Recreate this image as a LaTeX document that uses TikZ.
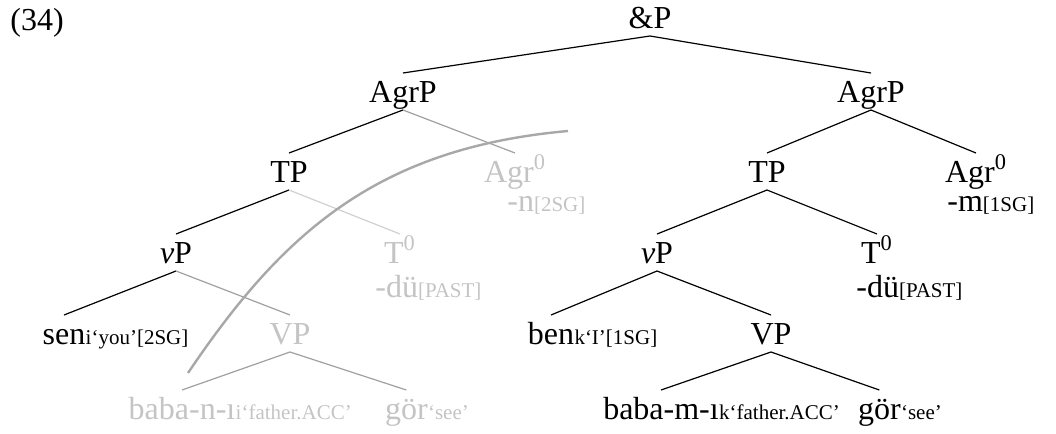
\documentclass[tikz,border=0pt]{standalone}
\usepackage{fontspec}
\setmainfont{Liberation Serif}
\usetikzlibrary{positioning}
\definecolor{fade}{HTML}{C4C4C4}
\definecolor{edgeg}{HTML}{A0A0A0}
\definecolor{edgel}{HTML}{D0D0D0}
\definecolor{arcg}{HTML}{A8A8A8}
\newcommand{\lbfont}{\fontsize{16}{18}\selectfont}
\newcommand{\smfont}{\fontsize{10.5}{12}\selectfont}
\tikzset{
  lab/.style={font=\lbfont, inner sep=0pt, outer sep=0pt, text height=14.5pt, text depth=4pt, anchor=base},
  labg/.style={lab, text=fade},
  sub/.style={font=\smfont, inner sep=0pt, anchor=base west},
  subg/.style={sub, text=fade},
  mor/.style={font=\lbfont, inner sep=0pt, anchor=base west},
  morg/.style={mor, text=fade},
  br/.style={draw=black, line width=0.6pt},
  brg/.style={br, draw=edgeg},
  brl/.style={br, draw=edgel},
  arcl/.style={draw=arcg, line width=1.2pt},
}

\begin{document}
\begin{tikzpicture}[x=0.5pt, y=-0.5pt]
\useasboundingbox (0,0) rectangle (1056,434);
\node[mor] (num) at (10,30) {(34)};
\node[lab] (amp) at (650,28) {\&P};
% left conjunct
\node[lab] (agrpL) at (403,102) {AgrP};
\node[lab] (tpL) at (289,182) {TP};
\node[labg] (agrL) at (515,182) {Agr\textsuperscript{0}};
\node[morg] (mL) at (507,211) {-n{\smfont[2SG]}};
\node[lab] (vpL) at (176,263) {\textit{v}P};
\node[labg] (tL) at (400,263) {T\textsuperscript{0}};
\node[morg] (duL) at (375,297) {-dü{\smfont[PAST]}};
\node[lab] (sen) at (64,344) {sen};
\node[sub] at (sen.base east) {i‘you’[2SG]};
\node[labg] (VL) at (290,344) {VP};
\node[labg] (babaL) at (182,419) {baba-n-ı};
\node[subg] at (babaL.base east) {i‘father.ACC’};
\node[labg, anchor=base west] (gorL) at (385,419) {gör};
\node[subg] at (gorL.base east) {‘see’};
% right conjunct
\node[lab] (agrpR) at (871,102) {AgrP};
\node[lab] (tpR) at (767,182) {TP};
\node[lab] (agrR) at (976,182) {Agr\textsuperscript{0}};
\node[mor] (mR) at (947,211) {-m{\smfont[1SG]}};
\node[lab] (vpR) at (657,263) {\textit{v}P};
\node[lab] (tR) at (877,263) {T\textsuperscript{0}};
\node[mor] (duR) at (856,297) {-dü{\smfont[PAST]}};
\node[lab] (ben) at (551,344) {ben};
\node[sub] at (ben.base east) {k‘I’[1SG]};
\node[lab] (VR) at (771,344) {VP};
\node[lab] (babaR) at (661,419) {baba-m-ı};
\node[sub] at (babaR.base east) {k‘father.ACC’};
\node[lab, anchor=base west] (gorR) at (858,419) {gör};
\node[sub] at (gorR.base east) {‘see’};

\draw[br] (amp.south) -- (agrpL.north);
\draw[br] (amp.south) -- (agrpR.north);
\draw[br] (agrpL.south) -- (tpL.north);
\draw[brg] (agrpL.south) -- (agrL.north);
\draw[br] (tpL.south) -- (vpL.north);
\draw[brl] (tpL.south) -- (tL.north);
\draw[br] (vpL.south) -- (sen.north);
\draw[brg] (vpL.south) -- (VL.north);
\draw[brg] (VL.south) -- (babaL.north);
\draw[brg] (VL.south) -- (gorL.north);
\draw[br] (agrpR.south) -- (tpR.north);
\draw[br] (agrpR.south) -- (agrR.north);
\draw[br] (tpR.south) -- (vpR.north);
\draw[br] (tpR.south) -- (tR.north);
\draw[br] (vpR.south) -- (ben.north);
\draw[br] (vpR.south) -- (VR.north);
\draw[br] (VR.south) -- (babaR.north);
\draw[br] (VR.south) -- (gorR.north);

% movement arc
\coordinate (mvA) at (188,373);
\coordinate (mvB) at (568,131);
\draw[arcl] (mvA) .. controls (283,232) and (378,148) .. (mvB);
\end{tikzpicture}
\end{document}
